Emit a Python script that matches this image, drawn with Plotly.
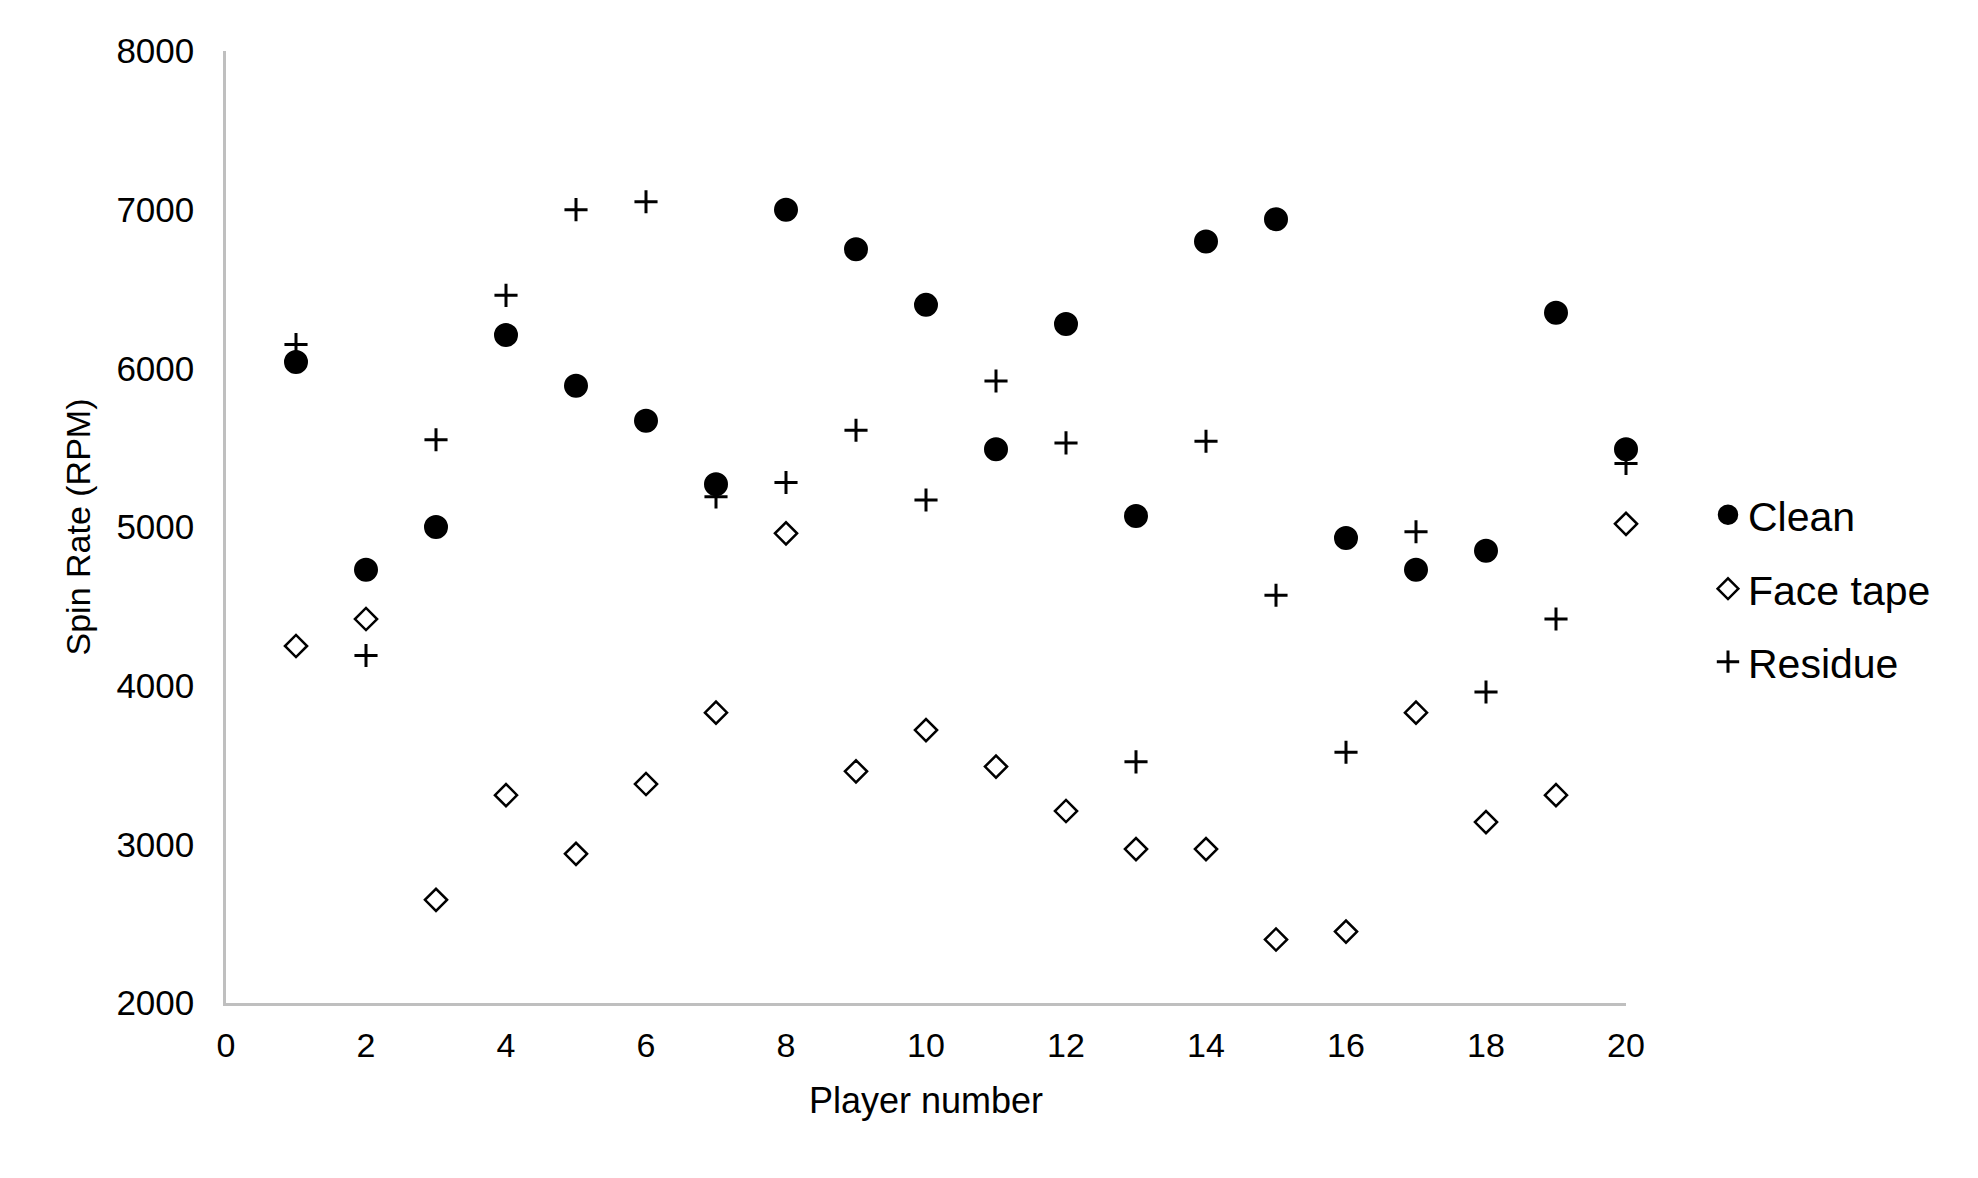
import plotly.graph_objects as go

players = list(range(1, 21))
clean = [6040, 4730, 5000, 6210, 5890, 5670, 5270, 7000, 6750, 6400,
         5490, 6280, 5070, 6800, 6940, 4930, 4730, 4850, 6350, 5490]
face_tape = [4250, 4420, 2650, 3310, 2940, 3380, 3830, 4960, 3460, 3720,
             3490, 3210, 2970, 2970, 2400, 2450, 3830, 3140, 3310, 5020]
residue = [6150, 4190, 5550, 6460, 7000, 7050, 5190, 5280, 5610, 5170,
           5920, 5530, 3520, 5540, 4570, 3580, 4970, 3960, 4420, 5400]

x_ticks = [0, 2, 4, 6, 8, 10, 12, 14, 16, 18, 20]
y_ticks = [2000, 3000, 4000, 5000, 6000, 7000, 8000]

FONT = "Liberation Sans, Arial, sans-serif"

fig = go.Figure()
fig.add_trace(go.Scatter(
    x=players, y=clean, mode="markers", name="Clean", legend="legend",
    marker=dict(symbol="circle", size=19.5, color="black", line=dict(width=4.5, color="black")),
    cliponaxis=False,
))
fig.add_trace(go.Scatter(
    x=players, y=face_tape, mode="markers", name="Face tape", legend="legend2",
    marker=dict(symbol="diamond-open", size=17, color="black", line=dict(width=2.5, color="black")),
    cliponaxis=False,
))
fig.add_trace(go.Scatter(
    x=players, y=residue, mode="markers", name="Residue", legend="legend3",
    marker=dict(symbol="cross-thin", size=16.5, color="black", line=dict(width=3, color="black")),
    cliponaxis=False,
))

W, H = 1962, 1162
def leg(ypx):
    return dict(xref="container", yref="container", x=1700 / W, y=1 - ypx / H,
                xanchor="left", yanchor="middle", bgcolor="rgba(0,0,0,0)",
                font=dict(family=FONT, size=41, color="black"), borderwidth=0)

fig.update_layout(
    width=W, height=H,
    paper_bgcolor="white", plot_bgcolor="white",
    margin=dict(l=218, r=344, t=43, b=167, autoexpand=False),
    font=dict(family=FONT, color="black"),
    showlegend=True,
    legend=leg(507), legend2=leg(581), legend3=leg(654),
    xaxis=dict(
        range=[0, 20], tickvals=x_ticks, ticktext=[str(v) for v in x_ticks],
        showgrid=False, zeroline=False, showline=True, linecolor="#bfbfbf", linewidth=2.5,
        ticks="outside", ticklen=10, tickcolor="rgba(0,0,0,0)",
        tickfont=dict(family=FONT, size=34, color="black"),
        title=dict(text="Player number", font=dict(family=FONT, size=36, color="black"), standoff=26),
    ),
    yaxis=dict(
        range=[2000, 8000], tickvals=y_ticks, ticktext=[str(v) for v in y_ticks],
        showgrid=False, zeroline=False, showline=True, linecolor="#bfbfbf", linewidth=2.5,
        ticks="outside", ticklen=22, tickcolor="rgba(0,0,0,0)",
        tickfont=dict(family=FONT, size=35, color="black"),
        title=dict(text="Spin Rate (RPM)", font=dict(family=FONT, size=34, color="black"), standoff=16),
    ),
)

fig.write_html("out.html")
